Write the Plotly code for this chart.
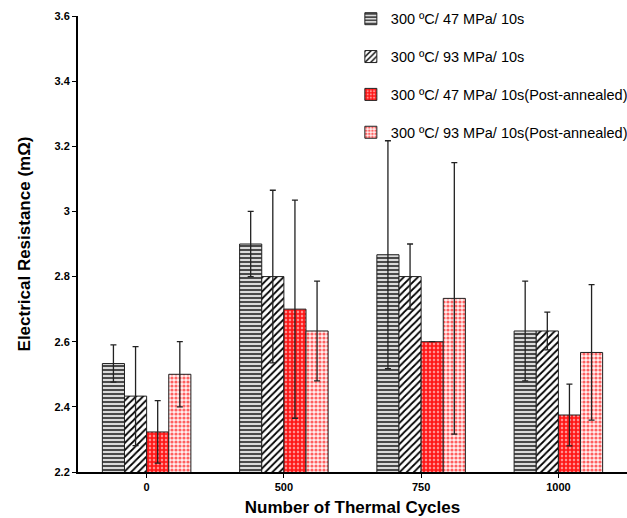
import plotly.graph_objects as go

categories = ["0", "500", "750", "1000"]
series_names = [
    "300 ºC/ 47 MPa/ 10s",
    "300 ºC/ 93 MPa/ 10s",
    "300 ºC/ 47 MPa/ 10s(Post-annealed)",
    "300 ºC/ 93 MPa/ 10s(Post-annealed)",
]
s1_vals = [2.533, 2.900, 2.867, 2.633]
s1_err = [0.057, 0.100, 0.350, 0.153]
s2_vals = [2.433, 2.800, 2.800, 2.633]
s2_err = [0.152, 0.265, 0.100, 0.058]
s3_vals = [2.323, 2.700, 2.600, 2.375]
s3_err = [0.096, 0.335, 0.0, 0.095]
s4_vals = [2.500, 2.633, 2.733, 2.567]
s4_err = [0.100, 0.153, 0.417, 0.208]
y_ticks = [2.2, 2.4, 2.6, 2.8, 3.0, 3.2, 3.4, 3.6]
y_ticktext = ["2.2", "2.4", "2.6", "2.8", "3", "3.2", "3.4", "3.6"]

values = [s1_vals, s2_vals, s3_vals, s4_vals]
errors = [s1_err, s2_err, s3_err, s4_err]
patterns = [
    dict(shape="-", bgcolor="#ffffff", fgcolor="#4a4a4a", size=4, solidity=0.6, fillmode="replace"),
    dict(shape="/", bgcolor="#ffffff", fgcolor="#000000", size=5, solidity=0.35, fillmode="replace"),
    dict(shape="+", bgcolor="#ff9090", fgcolor="#ff1010", size=4, solidity=0.65, fillmode="replace"),
    dict(shape=".", bgcolor="#fff0f0", fgcolor="#ff6060", size=4, solidity=0.5, fillmode="replace"),
]

fig = go.Figure()
for i in range(4):
    fig.add_trace(go.Bar(
        x=categories, y=values[i], name=series_names[i],
        legendgroup=f"g{i}",
        marker=dict(color="#ffffff", pattern=patterns[i],
                    line=dict(color="#202020", width=1)),
        error_y=dict(type="data", array=errors[i], visible=True,
                     color="#222222", thickness=1.3, width=3),
    ))

fig.update_layout(
    width=627, height=518,
    margin=dict(l=78, r=0, t=16, b=46, autoexpand=False),
    paper_bgcolor="white", plot_bgcolor="white",
    barmode="group", bargap=0.355, bargroupgap=0,
    font=dict(family="Liberation Sans, Arial, sans-serif", color="#000000"),
    showlegend=True,
    legend=dict(x=0.497, y=1.029, xanchor="left", yanchor="top",
                bgcolor="rgba(0,0,0,0)", font=dict(size=14.5),
                traceorder="grouped", tracegroupgap=16,
                itemwidth=30),
    xaxis=dict(
        title=dict(text="<b>Number of Thermal Cycles</b>", font=dict(size=17), standoff=9),
        showline=True, linecolor="#000000", linewidth=2,
        ticks="outside", ticklen=4, tickcolor="#000000", tickwidth=1,
        tickfont=dict(size=11), showgrid=False, zeroline=False,
        tickprefix="<b>", ticksuffix="</b>",
    ),
    yaxis=dict(
        title=dict(text="<b>Electrical Resistance (mΩ)</b>", font=dict(size=17), standoff=20),
        range=[2.2, 3.6], tickvals=y_ticks,
        ticktext=["<b>" + t + "</b>" for t in y_ticktext],
        showline=True, linecolor="#000000", linewidth=2,
        ticks="outside", ticklen=4, tickcolor="#000000", tickwidth=1,
        tickfont=dict(size=11), showgrid=False, zeroline=False,
    ),
)

fig.write_html("out.html")
